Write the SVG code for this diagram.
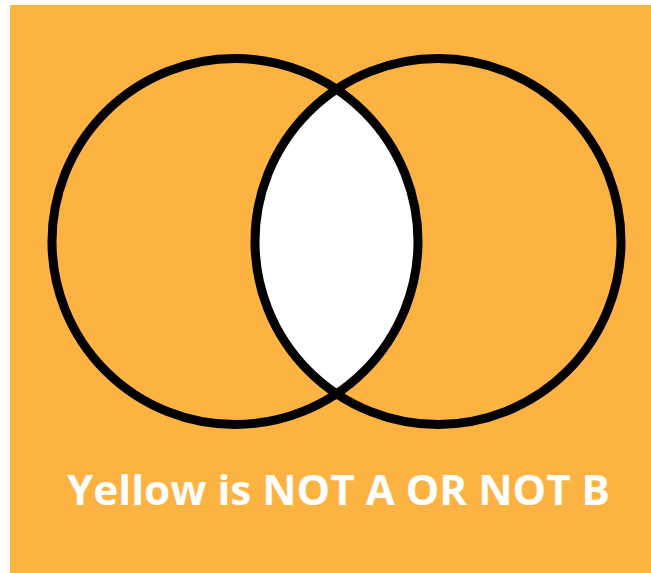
<svg xmlns="http://www.w3.org/2000/svg" width="651" height="573" viewBox="0 0 651 573">
  <style>
    .ring { fill: none; stroke: #000; stroke-width: 9; }
    .label { font-family: "Open Sans", "Liberation Sans", sans-serif; font-weight: 700; font-size: 41px; fill: #ffffff; }
  </style>
  <defs>
    <clipPath id="clipA">
      <circle cx="235" cy="241.5" r="183"/>
    </clipPath>
  </defs>
  <rect x="0" y="0" width="651" height="573" fill="#ffffff"/>
  <rect x="10" y="5" width="641" height="568" fill="#FDB342"/>
  <g id="intersection">
    <circle cx="438" cy="241.5" r="183" fill="#ffffff" clip-path="url(#clipA)"/>
  </g>
  <g id="circleA">
    <circle class="ring" cx="235" cy="241.5" r="183"/>
  </g>
  <g id="circleB">
    <circle class="ring" cx="438" cy="241.5" r="183"/>
  </g>
  <g id="caption">
    <text class="label" x="67" y="505" textLength="543" lengthAdjust="spacingAndGlyphs">Yellow is NOT A OR NOT B</text>
  </g>
</svg>
